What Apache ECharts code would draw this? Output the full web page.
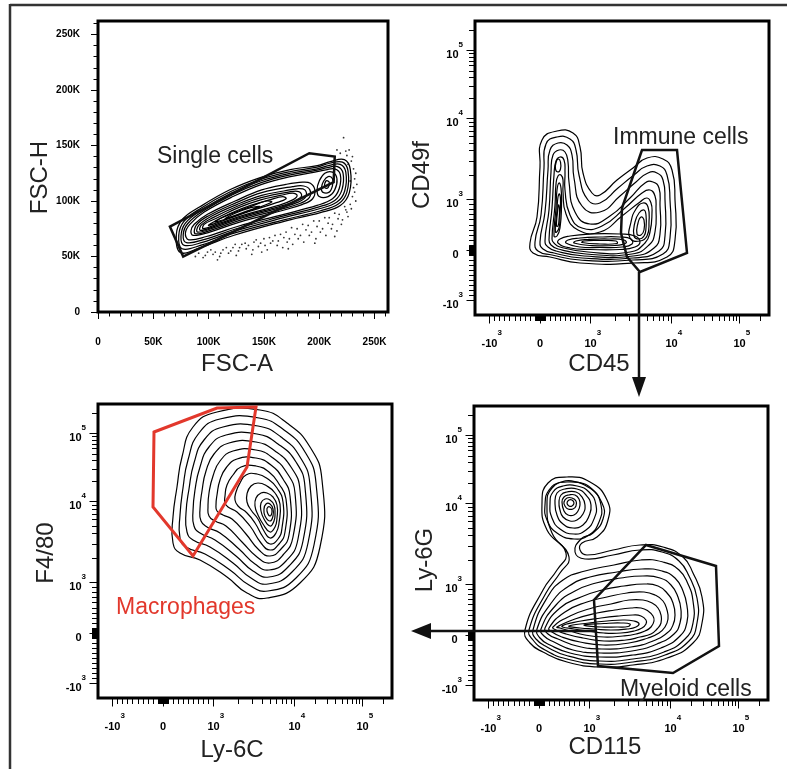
<!DOCTYPE html>
<html><head><meta charset="utf-8">
<script src="https://cdn.jsdelivr.net/npm/echarts@6/dist/echarts.min.js"></script>
<style>html,body{margin:0;padding:0;background:#fff}#c{width:787px;height:769px}</style>
</head><body><div id="c"></div>
<script>
// ---------------- tick labels ----------------
const FSC_MAJOR = [0, 50, 100, 150, 200, 250];            // thousands
const FSC_MINOR = [10,20,30,40,60,70,80,90,110,120,130,140,160,170,180,190,210,220,230,240,260];
const BIEX_MAJOR = [-1000, 0, 1000, 10000, 100000];
const BIEX_BASE  = ['-10', '0', '10', '10', '10'];
const BIEX_EXP   = ['3', '', '3', '4', '5'];
const BIEX_MINOR = [-900,-800,-700,-600,-500,-400,-300,-200,-100,-90,-80,-70,-60,-50,-40,-30,-20,-10,
  10,20,30,40,50,60,70,80,90,100,200,300,400,500,600,700,800,900,
  2000,3000,4000,5000,6000,7000,8000,9000,20000,30000,40000,50000,60000,70000,80000,90000,200000];

// ---------------- panel 1: FSC-A / FSC-H (values in K) ----------------
const singletRings = [
 [[74.4,53.6],[92.5,58.1],[122.3,68.9],[167.5,81.5],[201,89.6],[219,95.9],[227.2,107.6],[228.1,128.3],[222.7,137.3],[210,135.5],[198.2,131.9],[173.8,128.3],[146.7,121.1],[119.6,110.3],[92.5,95],[76.2,83.3],[70.8,69.8]],
 [[76,57],[94,60.5],[123,71],[168,83],[200.5,91],[217.5,97.5],[225,108],[226,127],[221,135],[209.5,134],[198,130.5],[174,126.5],[147,119.5],[120,108.5],[93,93.5],[77.5,81.5],[73,69]],
 [[78,60],[95,63],[124,73],[168,85],[200,93],[216,99],[223,109],[224,126],[219,133],[209,132],[198,129],[174,125],[147,118],[120,107],[94,92],[79,80],[75,68]],
 [[80,62.5],[96.5,65.5],[125,75],[168,86.5],[199,94.5],[214,100.5],[220.5,110],[221.5,125],[216.5,131],[207.5,130],[197,127.5],[174,123.5],[147.5,116.5],[121,105.5],[95,91],[81,79.5],[77,69.5]],
 [[82,65],[98,68],[126,77],[168,88],[198,96],[212,102],[218,111],[219,124],[214,129],[206,128],[196,126],[174,122],[148,115],[122,104],[96,90],[83,79],[79,71]],
 [[86,69],[101,72],[128,81],[165,91],[185,97],[194,102],[196,110],[192,116],[185,117],[170,115],[148,110],[124,100],[99,88],[87,79],[84,73]],
 [[88,70.5],[103,74],[129.5,83],[165,92.5],[183,98],[191,103],[191.5,110],[186,113.5],[176,113],[148,107.5],[125,98.5],[100.5,87],[89,78.5]],
 [[90,72],[105,76],[131,85],[165,94],[181,99],[188,104],[187,110],[180,111],[168,109],[148,105],[126,97],[102,86],[91,78]],
 [[92.5,73.5],[107.5,78],[132.5,86.5],[164,95],[178.5,100],[184,104.5],[181.5,108.5],[172,108],[147.5,103],[126.5,95.5],[104,85],[93.5,78.5]],
 [[95,75],[110,80],[134,88],[163,96],[176,101],[180,105],[176,107],[165,105],[147,101],[127,94],[106,84],[96,79]],
 [[100,78],[115,83],[138,91],[160,98],[170,102],[167,104],[155,101],[138,96],[120,89],[106,82]],
 [[106,81],[122,86],[142,93],[157,99],[152,100],[138,95],[122,89],[110,84]],
 [[115,84],[132,90],[146,95],[138,94],[124,89]],
 [[200,104],[208,104],[214,110],[216,120],[212,126],[205,125],[200,118],[198,110]],
 [[203,108],[209,108],[212,114],[212,120],[208,122],[204,118],[202,112]],
 [[205,112],[208,112],[209,117],[206,118]]
];
const singletOutliers = [[88,50],[95,49],[99,54],[104,52],[110,50],[113,56],[118,53],[122,58],[127,55],[130,61],[134,57],[139,52],[141,63],[145,59],[150,66],[153,56],[156,62],[160,69],[163,64],[167,58],[170,72],[173,66],[176,61],[180,75],[183,69],[186,63],[190,78],[193,72],[197,66],[200,82],[203,75],[206,69],[209,85],[212,79],[216,73],[218,88],[221,83],[224,92],[226,86],[228,97],[230,104],[231,112],[232,120],[231,129],[229,136],[225,141],[219,143],[227,146],[233,100],[234,115],[108,47],[125,51],[148,54],[172,57],[196,62],[214,68],[222,157],
 [91,53],[97,51],[102,56],[106,54],[111,53],[116,58],[120,55],[124,61],[128,58],[133,62],[136,60],[140,56],[143,65],[147,62],[151,60],[155,67],[158,64],[162,60],[165,70],[168,67],[171,63],[175,76],[178,70],[181,66],[185,79],[188,74],[191,69],[195,82],[198,77],[201,72],[205,85],[208,80],[211,75],[214,89],[217,84],[220,79],[223,95],[225,90],[229,93],[232,108],[233,125],[230,140],[224,145],[216,146],[228,118],[226,133]];
const singletGate = [[65,77],[191,143],[214,140],[213,117],[77,50]];

// ---------------- panel 2: CD45 / CD49f (display channel) ----------------
const cd45Rings = [
 [[40,57],[47,83],[50,133],[52,160],[67,169],[83,167],[90,153],[93,127],[102,107],[110,105],[127,120],[143,132],[157,142],[173,141],[182,130],[185,100],[185,60],[177,43],[143,37],[90,37],[60,43],[43,47]],
 [[45,58],[51,85],[54,132],[56,156],[67,163],[80,161],[86,150],[89,125],[98,100],[110,97],[128,112],[144,125],[157,134],[170,134],[177,125],[180,100],[180,62],[173,46],[143,40],[90,40],[62,45],[48,49]],
 [[50,58],[55,88],[58,130],[60,150],[68,157],[77,155],[82,145],[84,122],[92,94],[110,88],[130,104],[146,118],[158,127],[167,127],[173,120],[175,100],[175,64],[169,49],[143,42],[92,42],[64,47],[53,51]],
 [[55,59],[59,90],[61,128],[63,145],[69,150],[75,148],[78,138],[79,118],[85,88],[100,76],[120,84],[140,102],[155,117],[163,118],[169,112],[170,95],[170,66],[164,52],[143,44],[94,44],[66,49],[58,53]],
 [[59,60],[62,92],[64,125],[66,139],[70,143],[74,140],[75,128],[75,110],[80,85],[92,72],[112,74],[135,92],[152,107],[160,110],[165,104],[166,92],[165,68],[159,55],[142,46],[96,46],[68,51],[61,55]],
 [[62,61],[65,95],[66,116],[68,124],[71,125],[73,120],[73,108],[76,86],[88,70],[110,68],[132,84],[150,98],[157,102],[161,97],[162,88],[160,68],[155,57],[140,48],[98,48],[70,53],[64,57]],
 [[68,57],[80,52],[100,50.5],[130,50.5],[145,53],[150,58],[145,64],[130,66],[100,66],[80,64],[70,61]],
 [[76,57],[90,53],[110,52.5],[132,53],[142,56],[141,61],[130,63],[110,63],[90,62],[78,60]],
 [[84,57],[100,54.5],[125,54.5],[136,57],[134,60],[118,61],[98,60.5],[86,59]],
 [[92,57.5],[110,56],[127,56.5],[126,59],[110,59.5],[94,59]],
 [[140,62],[141,78],[146,91],[153,97],[158,93],[159,78],[157,64],[150,59]],
 [[144,64],[145,78],[149,87],[154,90],[156,85],[156,72],[154,64],[149,61]],
 [[147,66],[148,77],[151,83],[154,80],[154,70],[151,65]],
 [[64,64],[66,92],[67,110],[69,117],[71,112],[71.5,95],[70,72],[67,64]],
 [[65.5,68],[67,90],[68,103],[69.5,106],[70.5,100],[70,85],[69,72]],
 [[66.5,74],[67.5,88],[68.5,95],[69.5,91],[69,80],[68,74]],
 [[65.5,131],[66.5,139],[68.5,141],[70.5,138],[70.5,131],[68,128]]
];
const cd45Gate = [[152,150],[187,150],[197,47],[150,28],[137,43],[131,67],[132,92]];

// ---------------- panel 3: Ly-6C / F4/80 ----------------
const ly6cRings = [
 [[154,85],[187,100],[207,136],[209,203],[197,236],[174,260],[147,273],[104,271],[80,256],[69,226],[64,196],[60,166],[60,140],[67,130],[87,123],[114,106],[134,90]],
 [[155,92],[183,105],[201,138],[203,200],[192,231],[171,253],[146,265],[107,264],[86,250],[75,223],[70,195],[67,168],[67,145],[73,136],[92,129],[117,113],[136,98]],
 [[155,99],[179,111],[195,140],[197,198],[187,226],[168,246],[145,257],[110,256],[91,243],[81,220],[76,194],[73,170],[74,151],[80,143],[97,136],[120,120],[138,105]],
 [[156,106],[176,117],[190,142],[192,196],[183,221],[165,239],[144,249],[113,248],[96,236],[87,216],[82,193],[80,172],[81,157],[87,150],[102,143],[123,127],[140,112]],
 [[156,113],[173,122],[185,144],[187,193],[178,216],[162,232],[143,241],[116,240],[101,229],[93,212],[89,192],[87,174],[88,162],[94,156],[107,150],[126,134],[142,119]],
 [[157,120],[170,128],[180,146],[182,190],[174,210],[160,225],[143,233],[120,232],[107,222],[100,207],[96,190],[95,176],[96,167],[102,162],[113,157],[129,141],[144,126]],
 [[157,127],[168,134],[176,148],[177,187],[170,204],[158,218],[143,225],[124,224],[113,215],[107,203],[104,188],[103,178],[104,172],[110,168],[119,164],[133,149],[146,133]],
 [[157,133],[166,139],[172,151],[173,184],[166,199],[156,211],[143,217],[128,216],[120,208],[114,198],[112,187],[112,180],[115,176],[124,171],[137,157],[148,140]],
 [[157,139],[165,144],[169,155],[170,181],[164,195],[155,204],[144,209],[133,208],[127,200],[123,191],[122,183],[125,177],[134,170],[142,160],[150,146]],
 [[157,145],[163,150],[166,160],[167,179],[162,190],[154,197],[145,200],[138,197],[134,189],[134,181],[138,173],[145,164],[151,152]],
 [[157,151],[162,156],[164,165],[164,178],[160,186],[154,190],[148,190],[143,185],[142,177],[145,168],[150,159]],
 [[157,157],[161,162],[162,170],[161,178],[157,183],[152,184],[148,180],[148,172],[151,164]],
 [[157,162],[160,167],[160,174],[157,179],[153,179],[151,174],[152,167]],
 [[157,167],[159,171],[158,175],[155,176],[154,172]]
];
const ly6cGate = [[41,251],[104,275],[143,276],[134,216],[80,127],[40,176]];

// ---------------- panel 4: CD115 / Ly-6G ----------------
const ly6gRings = [
 [[36,55],[54,95],[68,115],[77,132],[58,155],[53,182],[59,202],[78,208],[101,203],[118,185],[119,165],[108,148],[93,142],[91,135],[98,130],[124,135],[151,140],[174,138],[194,128],[204,112],[213,88],[213,62],[204,42],[178,27],[144,20],[111,18],[78,23],[54,33],[41,42]],
 [[40,55],[57,92],[71,112],[80,128],[63,152],[58,180],[63,197],[78,203],[99,198],[113,182],[114,166],[104,152],[92,146],[86,133],[96,126],[124,130],[151,135],[173,133],[190,124],[200,109],[208,87],[208,62],[200,44],[176,30],[144,23],[111,21],[78,26],[56,35],[44,45]],
 [[44,55],[58,87],[74,105],[96,114],[125,120],[152,125],[174,123],[190,115],[199,101],[204,84],[204,62],[196,46],[175,33],[144,26],[111,24],[79,29],[58,38],[47,46]],
 [[48,56],[63,83],[80,99],[101,108],[128,113],[153,116],[173,114],[186,107],[194,94],[198,79],[198,63],[191,49],[172,37],[144,30],[111,28],[81,32],[61,40],[51,47]],
 [[52,56],[67,80],[86,94],[107,102],[132,107],[154,109],[171,107],[182,100],[189,88],[192,75],[191,62],[185,51],[168,41],[143,34],[112,32],[84,35],[65,43],[55,49]],
 [[56,57],[71,77],[92,88],[113,95],[135,99],[155,101],[169,99],[178,92],[184,82],[186,70],[184,60],[178,52],[164,44],[142,38],[113,36],[88,39],[69,46],[59,51]],
 [[60,57],[76,73],[98,83],[118,88],[138,92],[155,93],[166,90],[174,84],[178,75],[179,66],[176,58],[170,52],[159,47],[140,42],[114,40],[91,43],[73,48],[63,53]],
 [[64,58],[81,69],[103,77],[122,81],[140,85],[154,85],[163,82],[169,77],[172,70],[172,62],[168,56],[162,51],[151,48],[137,45],[115,44],[94,47],[77,51],[67,55]],
 [[68,58],[86,66],[108,72],[126,75],[142,77],[152,77],[159,74],[164,69],[165,64],[162,58],[156,54],[147,51],[134,49],[115,48],[96,50],[81,54],[71,57]],
 [[73,59],[92,64],[112,67],[130,69],[144,70],[152,69],[157,65],[157,61],[153,57],[145,54],[132,52],[115,52],[99,54],[85,56]],
 [[80,59],[100,62],[118,64],[134,65],[145,64],[150,61.5],[147,58],[138,56],[122,55],[105,56],[91,57]],
 [[95,60],[115,61.5],[132,62],[141,61],[139,58.5],[128,58],[112,58]],
 [[56,180],[60,195],[72,203],[88,203],[103,196],[112,180],[110,163],[100,150],[85,146],[68,152],[58,165]],
 [[61,181],[64,193],[74,199],[88,199],[100,193],[107,180],[105,166],[97,155],[85,151],[71,156],[63,167]],
 [[66,182],[68,192],[76,196],[88,196],[97,190],[102,180],[100,169],[94,160],[84,157],[74,161],[68,170]],
 [[70,183],[72,190],[78,193],[87,193],[93,188],[96,180],[94,171],[88,165],[81,164],[74,168],[71,175]],
 [[73,183],[75,188],[80,190],[86,190],[90,186],[91,180],[89,174],[85,170],[79,170],[75,174]],
 [[75,183],[78,187],[83,187],[87,184],[87,179],[84,176],[79,176],[76,179]],
 [[78,182],[80,185],[83,185],[85,182],[83,179],[80,179]]
];
const ly6gGate = [[157,140],[227,119],[230,39],[184,12],[109,19],[105,85]];

// ---------------- rendering ----------------
const FONT = '"Liberation Sans", Arial, Helvetica, sans-serif';
// biexponential display transform (linear near zero, log above 10^3)
function bx(v) {
  if (v <= 1000) return 50 + v * 0.0505;
  if (v <= 10000) return 100.5 + 81 * Math.log10(v / 1000);
  return 181.5 + 68 * Math.log10(v / 10000);
}

const PANELS = [
  {grid:{left:98, top:21, width:290, height:291}, kind:'fsc', xName:'FSC-A', yName:'FSC-H',
   xGap:40, yGap:41, xShift:6, yShift:11, rings:singletRings, gate:singletGate, gateColor:'#111', gateWidth:2.5, dots:singletOutliers, smooth:0.4, lw:1.25},
  {grid:{left:475, top:21, width:294, height:294}, kind:'biex', xName:'CD45', yName:'CD49f',
   xGap:37, yGap:41, xShift:23, yShift:7, rings:cd45Rings, gate:cd45Gate, gateColor:'#111', gateWidth:2.5, smooth:0.5, lw:1.2},
  {grid:{left:98, top:404, width:294, height:294}, kind:'biex', xName:'Ly-6C', yName:'F4/80',
   xGap:40, yGap:40, xShift:13, yShift:2, rings:ly6cRings, gate:ly6cGate, gateColor:'#e2382c', gateWidth:3, smooth:0.5, lw:1.2},
  {grid:{left:474, top:406, width:294, height:294}, kind:'biex', xName:'CD115', yName:'Ly-6G',
   xGap:34, yGap:30, xShift:16, yShift:7, rings:ly6gRings, gate:ly6gGate, gateColor:'#111', gateWidth:2.5, smooth:0.5, lw:1.2}
];

const RICH = {
  b: {fontSize:11, fontWeight:'bold', fontFamily:FONT, color:'#000', lineHeight:20, verticalAlign:'bottom'},
  s: {fontSize:8, fontWeight:'bold', fontFamily:FONT, color:'#000', lineHeight:9, verticalAlign:'top'},
  sp:{fontSize:8, width:4.5, lineHeight:9, verticalAlign:'top'}
};

function biexLabel(v, isX) {
  let i = 0, best = 1e9;
  BIEX_MAJOR.forEach((m, k) => { const d = Math.abs(bx(m) - v); if (d < best) { best = d; i = k; } });
  const b = BIEX_BASE[i], e = BIEX_EXP[i];
  if (!e) return isX ? '{b|' + b + '}' : '{b|' + b + '}{sp| }';
  return isX ? '{sp| }{b|' + b + '}{s|' + e + '}' : '{b|' + b + '}{s|' + e + '}';
}

const grids = [], xAxes = [], yAxes = [], series = [];
PANELS.forEach((p, gi) => {
  grids.push(Object.assign({show:true, borderColor:'#000', borderWidth:3}, p.grid));
  const isF = p.kind === 'fsc';
  const min = isF ? 0 : -15, max = isF ? 262.144 : 279;
  const majors = isF ? FSC_MAJOR : BIEX_MAJOR.map(bx);
  const minors = (isF ? FSC_MINOR : BIEX_MINOR.map(bx)).filter(v => v > min && v < max);
  const majLen = isF ? 7 : 8.5, minLen = isF ? 4.5 : 6;
  const nameStyle = (s) => ({fontSize:24, fontFamily:FONT, color:'#222', padding: s >= 0 ? [0, 2*s, 0, 0] : [0, 0, 0, -2*s]});
  const fscFmt = v => v === 0 ? '0' : v + 'K';
  const mk = (dim) => {
    const isX = dim === 'x';
    const major = {
      type:'value', gridIndex:gi, position: isX ? 'bottom' : 'left', min, max,
      axisLine:{show:false, onZero:false}, splitLine:{show:false},
      axisTick:{show:true, length:majLen, customValues:majors, lineStyle:{color:'#000', width:1}},
      axisLabel: isF ? {
        customValues:majors, formatter:fscFmt, fontSize:10, fontWeight:'bold', fontFamily:FONT, color:'#000',
        lineHeight:12, margin: isX ? 24 : 18
      } : {
        customValues:majors, formatter: v => biexLabel(v, isX), rich:RICH,
        margin: isX ? 14 : 12
      },
      name: isX ? p.xName : p.yName, nameLocation:'middle',
      nameGap: isX ? p.xGap : p.yGap, nameTextStyle: nameStyle(isX ? p.xShift : p.yShift)
    };
    const minor = {
      type:'value', gridIndex:gi, position: isX ? 'bottom' : 'left', min, max,
      axisLine:{show:false, onZero:false}, splitLine:{show:false}, axisLabel:{show:false},
      axisTick:{show:true, length:minLen, customValues:minors, lineStyle:{color:'#000', width:1}}
    };
    return [major, minor];
  };
  xAxes.push(...mk('x'));
  yAxes.push(...mk('y'));
  const xi = gi * 2, yi = gi * 2;
  series.push({
    type:'custom', xAxisIndex:xi, yAxisIndex:yi, silent:true, clip:true, z:2,
    data: p.rings.map(r => r[0]),
    renderItem: (params, api) => ({
      type:'polygon',
      shape:{points: p.rings[params.dataIndex].map(pt => api.coord(pt)), smooth:p.smooth},
      style:{fill:'none', stroke:'#000', lineWidth:p.lw}
    })
  });
  if (p.dots) {
    series.push({type:'scatter', xAxisIndex:xi, yAxisIndex:yi, silent:true, symbolSize:1.8,
      itemStyle:{color:'#000'}, data:p.dots, z:2});
  }
  series.push({
    type:'custom', xAxisIndex:xi, yAxisIndex:yi, silent:true, z:3,
    data:[p.gate[0]],
    renderItem: (params, api) => ({
      type:'polygon',
      shape:{points: p.gate.map(pt => api.coord(pt))},
      style:{fill:'none', stroke:p.gateColor, lineWidth:p.gateWidth, lineJoin:'miter'}
    })
  });
});

function txt(text, x, y, color) {
  return {type:'text', z:50, silent:true,
    style:{text, x, y, fill:color, font:'23px ' + FONT, fontSize:23, fontFamily:FONT,
      align:'left', verticalAlign:'middle', textAlign:'left', textVerticalAlign:'middle'}};
}

const graphic = [
  {type:'line', z:40, silent:true, shape:{x1:10, y1:5, x2:787, y2:5}, style:{stroke:'#333', lineWidth:2.5}},
  {type:'line', z:40, silent:true, shape:{x1:10, y1:4, x2:10, y2:769}, style:{stroke:'#333', lineWidth:2.5}},
  // arrows linking the gates
  {type:'line', z:40, silent:true, shape:{x1:639, y1:272, x2:639, y2:380}, style:{stroke:'#111', lineWidth:2.5}},
  {type:'polygon', z:40, silent:true, shape:{points:[[632,377],[646,377],[639,397]]}, style:{fill:'#111'}},
  {type:'line', z:40, silent:true, shape:{x1:597, y1:631, x2:428, y2:631}, style:{stroke:'#111', lineWidth:2.5}},
  {type:'polygon', z:40, silent:true, shape:{points:[[431,623],[431,639],[411,631]]}, style:{fill:'#111'}},
  txt('Single cells', 157, 157, '#222'),
  txt('Immune cells', 613, 138, '#222'),
  txt('Macrophages', 116, 608, '#e2382c'),
  txt('Myeloid cells', 620, 690, '#222')
];

const chart = echarts.init(document.getElementById('c'), null, {renderer:'canvas'});
chart.setOption({
  animation:false, backgroundColor:'#fff',
  textStyle:{fontFamily:FONT},
  grid:grids, xAxis:xAxes, yAxis:yAxes, series, graphic
});
</script></body></html>
